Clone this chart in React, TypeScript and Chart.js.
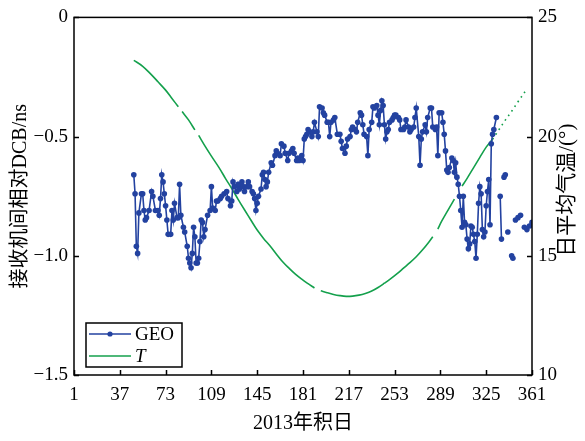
import React, { useEffect, useRef } from 'react';
import { Chart, registerables } from 'chart.js';
Chart.register(...registerables);

// ---- data ----
const geoDays = [48,49,50,51,52,54,55,56,57,58,60,62,63,65,67,68,69,70,71,72,73,74,75,77,78,79,80,82,83,84,85,87,88,90,91,92,93,94,95,96,97,98,99,100,101,102,103,104,106,108,109,110,112,113,114,116,117,119,121,122,124,125,126,127,129,130,131,133,134,135,137,138,139,141,142,143,144,145,146,148,149,150,151,152,153,154,156,157,159,160,161,163,164,166,167,169,170,172,173,174,176,177,178,180,181,182,183,184,185,186,188,189,190,192,193,194,196,197,198,200,201,202,203,205,206,208,210,211,212,214,215,216,218,219,220,222,223,224,226,227,228,229,231,232,233,235,236,237,239,240,241,242,243,244,245,246,247,248,249,251,252,253,254,256,257,258,260,261,262,264,265,266,268,269,270,272,273,274,275,277,278,279,281,282,283,285,286,287,288,290,291,292,293,294,295,296,298,299,300,301,302,303,304,305,306,307,308,309,310,311,312,313,314,315,316,317,318,319,320,321,322,323,324,325,326,327,328,329,330,331,333,334,336,337,338,339,340,341,342,343,345,346,347,348,350,352,353,355,357,358,359,361];
const geoDcb = [-0.66,-0.74,-0.96,-0.99,-0.82,-0.74,-0.74,-0.81,-0.85,-0.84,-0.81,-0.73,-0.75,-0.81,-0.81,-0.83,-0.76,-0.66,-0.69,-0.74,-0.79,-0.85,-0.91,-0.91,-0.81,-0.85,-0.78,-0.84,-0.84,-0.70,-0.83,-0.88,-0.90,-0.96,-1.01,-1.03,-1.05,-0.99,-0.88,-0.92,-1.03,-1.03,-1.01,-0.94,-0.85,-0.86,-0.92,-0.89,-0.83,-0.81,-0.71,-0.80,-0.81,-0.77,-0.77,-0.76,-0.75,-0.74,-0.73,-0.76,-0.79,-0.77,-0.69,-0.71,-0.73,-0.70,-0.72,-0.69,-0.71,-0.73,-0.71,-0.69,-0.71,-0.73,-0.74,-0.76,-0.81,-0.78,-0.75,-0.72,-0.66,-0.65,-0.68,-0.71,-0.69,-0.65,-0.61,-0.62,-0.58,-0.56,-0.57,-0.58,-0.53,-0.54,-0.57,-0.60,-0.57,-0.56,-0.55,-0.57,-0.60,-0.59,-0.60,-0.58,-0.60,-0.51,-0.50,-0.49,-0.47,-0.48,-0.50,-0.48,-0.44,-0.48,-0.50,-0.375,-0.38,-0.40,-0.41,-0.44,-0.44,-0.50,-0.44,-0.43,-0.42,-0.49,-0.49,-0.52,-0.55,-0.57,-0.54,-0.51,-0.50,-0.47,-0.46,-0.47,-0.48,-0.44,-0.40,-0.41,-0.45,-0.49,-0.50,-0.58,-0.47,-0.44,-0.375,-0.38,-0.37,-0.41,-0.45,-0.39,-0.35,-0.37,-0.45,-0.51,-0.48,-0.47,-0.44,-0.43,-0.42,-0.41,-0.41,-0.42,-0.43,-0.47,-0.47,-0.46,-0.43,-0.46,-0.48,-0.47,-0.46,-0.42,-0.38,-0.50,-0.62,-0.51,-0.48,-0.45,-0.48,-0.42,-0.38,-0.38,-0.46,-0.47,-0.46,-0.58,-0.40,-0.40,-0.44,-0.49,-0.56,-0.64,-0.65,-0.63,-0.59,-0.60,-0.65,-0.61,-0.67,-0.70,-0.75,-0.81,-0.88,-0.75,-0.86,-0.87,-0.93,-0.97,-0.95,-0.875,-0.88,-0.91,-0.94,-1.01,-0.91,-0.78,-0.71,-0.74,-0.89,-0.92,-0.90,-0.79,-0.73,-0.68,-0.87,-0.53,-0.49,-0.47,-0.42,null,-0.75,-0.93,null,-0.67,-0.66,null,-0.90,null,-1.00,-1.01,null,-0.85,-0.84,-0.83,null,-0.88,-0.89,null,-0.875,-0.86];

const tDays = [48,55,61,67,73,78,83,84,86,91,96,97,99,104,109,115,120,125,130,135,140,145,150,155,160,165,170,175,180,185,190,193,195,200,205,210,215,220,225,230,235,240,245,250,255,260,265,270,275,280,283,285,287,290,295,300,304,306,310,315,320,325,330,335,340,345,350,357];
const tTemp = [23.2,22.95,22.64,22.3,21.95,21.6,21.25,null,21.05,20.7,20.28,null,20.05,19.6,19.18,18.7,18.25,17.82,17.37,16.93,16.5,16.08,15.73,15.42,15.08,14.75,14.48,14.23,14.02,13.83,13.65,null,13.53,13.45,13.38,13.33,13.3,13.31,13.35,13.42,13.52,13.67,13.85,14.04,14.25,14.48,14.71,14.96,15.25,15.58,15.8,null,16.12,16.45,16.92,17.38,null,17.92,18.25,18.69,19.13,19.56,19.89,20.29,20.69,21.06,21.46,22.0];

const xTickValues = [1, 37, 73, 109, 145, 181, 217, 253, 289, 325, 361];
const leftTickValues = [-1.5, -1.0, -0.5, 0];
const rightTickValues = [10, 15, 20, 25];

const geoLabel = 'GEO';
const tLabel = 'T';
const xTitle = '2013年积日';
const yTitle = '接收机间相对DCB/ns';
const y2Title = '日平均气温/(°)';

const BLUE = '#2342a0';
const GREEN = '#14a04c';
const FONT_FAMILY = '"Liberation Serif", "Noto Sans CJK SC", serif';

const framePlugin = {
  id: 'frameAndLegend',
  afterDatasetsDraw(chart: any) {
    const { ctx, chartArea: ca, scales } = chart;
    ctx.save();
    ctx.strokeStyle = '#000';
    ctx.lineWidth = 1.5;
    // inward ticks
    const tl = 5;
    ctx.beginPath();
    xTickValues.forEach((v) => {
      const px = Math.round(scales.x.getPixelForValue(v)) + 0.5;
      ctx.moveTo(px, ca.bottom);
      ctx.lineTo(px, ca.bottom - tl);
    });
    leftTickValues.forEach((v) => {
      const py = Math.round(scales.y.getPixelForValue(v)) + 0.5;
      ctx.moveTo(ca.left, py);
      ctx.lineTo(ca.left + tl, py);
    });
    rightTickValues.forEach((v) => {
      const py = Math.round(scales.y2.getPixelForValue(v)) + 0.5;
      ctx.moveTo(ca.right, py);
      ctx.lineTo(ca.right - tl, py);
    });
    ctx.stroke();
    // frame
    ctx.strokeRect(ca.left, ca.top, ca.right - ca.left, ca.bottom - ca.top);

    // legend
    const lx = ca.left + 12;
    const ly = ca.bottom - 52;
    const lw = 96;
    const lh = 44;
    ctx.fillStyle = '#fff';
    ctx.fillRect(lx, ly, lw, lh);
    ctx.lineWidth = 1.5;
    ctx.strokeStyle = '#000';
    ctx.strokeRect(lx, ly, lw, lh);
    const row1 = ly + 11;
    const row2 = ly + 33;
    ctx.lineWidth = 1.5;
    ctx.strokeStyle = BLUE;
    ctx.beginPath();
    ctx.moveTo(lx + 3, row1);
    ctx.lineTo(lx + 45, row1);
    ctx.stroke();
    ctx.fillStyle = BLUE;
    ctx.beginPath();
    ctx.arc(lx + 24, row1, 2.6, 0, Math.PI * 2);
    ctx.fill();
    ctx.strokeStyle = GREEN;
    ctx.beginPath();
    ctx.moveTo(lx + 3, row2);
    ctx.lineTo(lx + 45, row2);
    ctx.stroke();
    ctx.fillStyle = '#000';
    ctx.textBaseline = 'middle';
    ctx.textAlign = 'left';
    ctx.font = `19px ${FONT_FAMILY}`;
    ctx.fillText(geoLabel, lx + 49, row1 + 1);
    ctx.font = `italic 19px ${FONT_FAMILY}`;
    ctx.fillText(tLabel, lx + 49, row2 + 1);

    // right axis title
    ctx.font = `21px ${FONT_FAMILY}`;
    ctx.textAlign = 'center';
    ctx.textBaseline = 'middle';
    ctx.translate(567, (ca.top + ca.bottom) / 2 - 6);
    ctx.rotate(-Math.PI / 2);
    ctx.fillText(y2Title, 0, 0);
    ctx.restore();
  },
};

const tickFont = { family: FONT_FAMILY, size: 19 };
const titleFont = { family: FONT_FAMILY, size: 20 };
const fmtLeft = (v: number) => (v === 0 ? '0' : (v < 0 ? '\u2212' : '') + Math.abs(v).toFixed(1));

export default function App() {
  const ref = useRef<HTMLCanvasElement | null>(null);
  useEffect(() => {
    if (!ref.current) return;
    const chart = new Chart(ref.current, {
      type: 'line',
      data: {
        datasets: [
          {
            label: geoLabel,
            data: geoDays.map((d, i) => ({ x: d, y: geoDcb[i] })),
            yAxisID: 'y',
            borderColor: BLUE,
            backgroundColor: BLUE,
            borderWidth: 1.6,
            pointRadius: 2.8,
            pointBorderWidth: 0,
            pointBackgroundColor: BLUE,
            tension: 0,
            spanGaps: false,
          },
          {
            label: tLabel,
            data: tDays.map((d, i) => ({ x: d, y: tTemp[i] })),
            yAxisID: 'y2',
            borderColor: GREEN,
            borderWidth: 1.6,
            pointRadius: 0,
            tension: 0.35,
            spanGaps: false,
            segment: {
              borderDash: (c: any) => (c.p0.parsed.x >= 330 ? [1.6, 4] : undefined),
            },
          },
        ] as any,
      },
      options: {
        responsive: false,
        animation: false,
        layout: { padding: { top: 15, left: 0, right: 0, bottom: 0 } },
        plugins: { legend: { display: false }, tooltip: { enabled: false } },
        scales: {
          x: {
            type: 'linear',
            min: 1,
            max: 361,
            afterBuildTicks: (s: any) => {
              s.ticks = xTickValues.map((v) => ({ value: v }));
            },
            afterFit: (s: any) => {
              s.height = 66;
            },
            grid: { display: false, drawTicks: false },
            border: { display: false },
            ticks: {
              padding: 9,
              font: tickFont,
              color: '#000',
              maxRotation: 0,
              autoSkip: false,
              callback: (v: any) => String(v),
            },
            title: { display: true, text: xTitle, font: titleFont, color: '#000', padding: { top: 0, bottom: 5 } },
          },
          y: {
            type: 'linear',
            position: 'left',
            min: -1.5,
            max: 0,
            afterBuildTicks: (s: any) => {
              s.ticks = leftTickValues.map((v) => ({ value: v }));
            },
            afterFit: (s: any) => {
              s.width = 74;
            },
            grid: { display: false, drawTicks: false },
            border: { display: false },
            ticks: { padding: 6, font: tickFont, color: '#000', callback: (v: any) => fmtLeft(Number(v)) },
            title: { display: true, text: yTitle, font: titleFont, color: '#000', padding: { top: 9, bottom: 0 } },
          },
          y2: {
            type: 'linear',
            position: 'right',
            min: 10,
            max: 25,
            afterBuildTicks: (s: any) => {
              s.ticks = rightTickValues.map((v) => ({ value: v }));
            },
            afterFit: (s: any) => {
              s.width = 53;
            },
            grid: { display: false, drawTicks: false },
            border: { display: false },
            ticks: { padding: 6, font: tickFont, color: '#000', callback: (v: any) => String(v) },
          },
        },
      } as any,
      plugins: [framePlugin],
    });
    return () => chart.destroy();
  }, []);
  return (
    <div style={{ position: 'absolute', left: 0, top: 0, width: 585, height: 441, background: '#fff' }}>
      <canvas ref={ref} width={585} height={441} />
    </div>
  );
}
